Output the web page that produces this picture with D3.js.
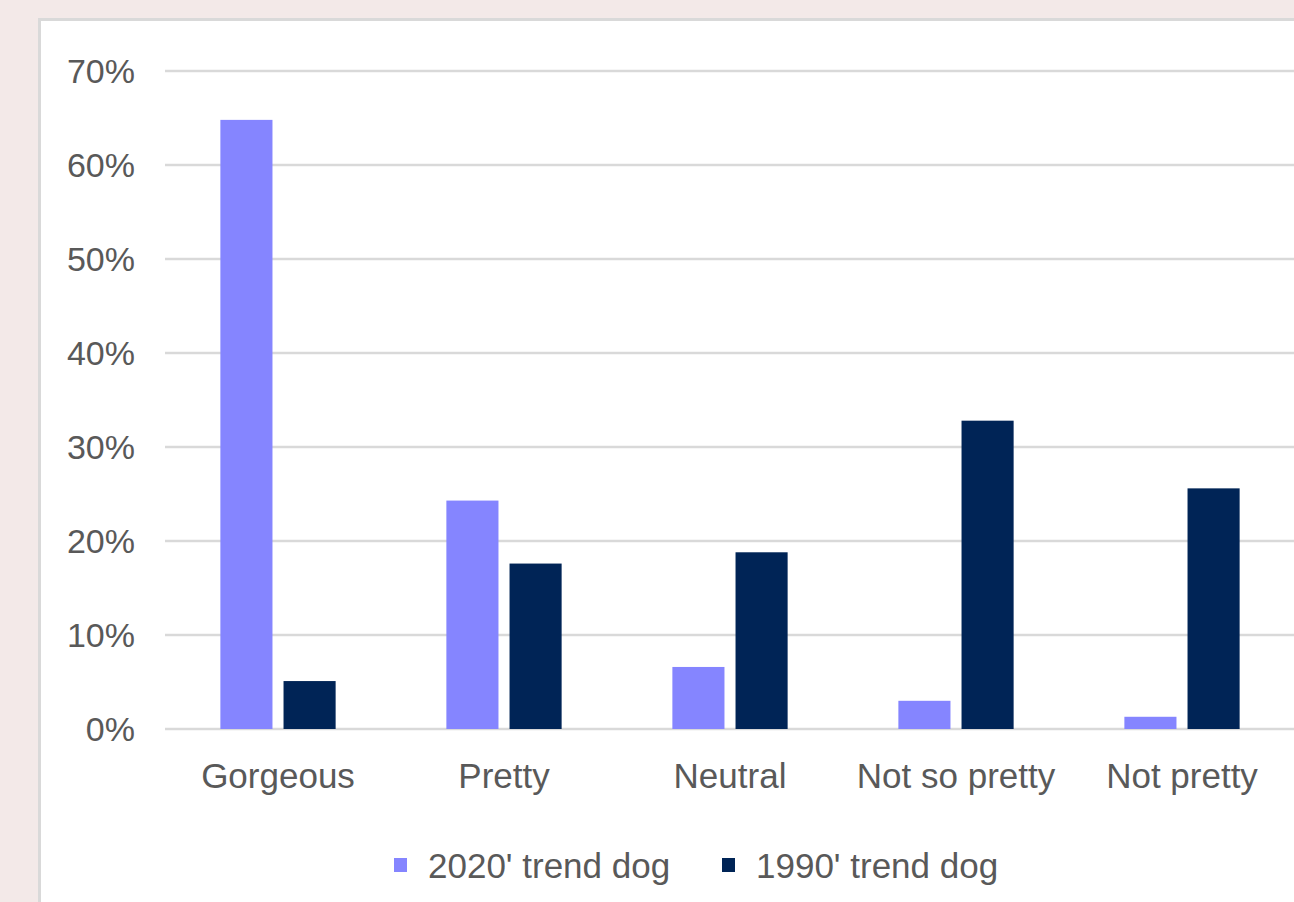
<!doctype html>
<html>
<head>
<script src="https://d3js.org/d3.v7.min.js"></script>
<style>
  body { margin: 0; background: #f3e9e8; }
  text { font-family: "Liberation Sans", Arial, sans-serif; fill: #595959; }
</style>
</head>
<body>
<svg width="1294" height="902"></svg>
<script>
// data
var categories = ["Gorgeous", "Pretty", "Neutral", "Not so pretty", "Not pretty"];
var seriesNames = ["2020' trend dog", "1990' trend dog"];
var trend2020 = [0.648, 0.243, 0.066, 0.030, 0.013];
var trend1990 = [0.051, 0.176, 0.188, 0.328, 0.256];
var yTicks = [0, 0.1, 0.2, 0.3, 0.4, 0.5, 0.6, 0.7];
var colors = ["#8585ff", "#002456"];

var svg = d3.select("svg");

// white panel
svg.append("rect")
  .attr("x", 39.5).attr("y", 19.5)
  .attr("width", 1300).attr("height", 900)
  .style("fill", "#ffffff")
  .style("stroke", "#d9d9d9")
  .style("stroke-width", 3);

var x0 = d3.scaleBand().domain(categories).range([165, 1295])
  .paddingInner(0.49).paddingOuter(0.245);
var x1 = d3.scaleBand().domain([0, 1]).range([0, x0.bandwidth()])
  .paddingInner(0.175);
var y = d3.scaleLinear().domain([0, 0.7]).range([729, 71]);

// gridlines
svg.append("g").selectAll("line")
  .data(yTicks)
  .enter().append("line")
  .attr("x1", 165).attr("x2", 1300)
  .attr("y1", function(d) { return y(d); })
  .attr("y2", function(d) { return y(d); })
  .style("stroke", "#d9d9d9")
  .style("stroke-width", 2.5);

// y labels
var yAxis = svg.append("g")
  .attr("transform", "translate(135,1)")
  .call(d3.axisLeft(y).tickValues(yTicks).tickFormat(d3.format(".0%")).tickSize(0).tickPadding(0));
yAxis.select(".domain").remove();
yAxis.selectAll("text")
  .style("font-size", "34px")
  .style("font-family", "Liberation Sans, Arial, sans-serif")
  .attr("fill", "#595959");

// bars
var rows = categories.map(function(c, i) { return { cat: c, vals: [trend2020[i], trend1990[i]] }; });
var groups = svg.append("g").selectAll("g")
  .data(rows)
  .enter().append("g")
  .attr("transform", function(d) { return "translate(" + x0(d.cat) + ",0)"; });

groups.selectAll("rect")
  .data(function(d) { return d.vals.map(function(v, k) { return { k: k, v: v }; }); })
  .enter().append("rect")
  .attr("x", function(d) { return x1(d.k); })
  .attr("y", function(d) { return y(d.v); })
  .attr("width", x1.bandwidth())
  .attr("height", function(d) { return y(0) - y(d.v); })
  .style("fill", function(d) { return colors[d.k]; });

// x labels
var xAxis = svg.append("g")
  .attr("transform", "translate(0,763)")
  .call(d3.axisBottom(x0).tickSize(0).tickPadding(0));
xAxis.select(".domain").remove();
xAxis.selectAll("text")
  .style("font-size", "35px")
  .style("font-family", "Liberation Sans, Arial, sans-serif")
  .attr("fill", "#595959");

// legend
var legendX = [394, 722];
var legend = svg.append("g").selectAll("g")
  .data(seriesNames)
  .enter().append("g")
  .attr("transform", function(d, i) { return "translate(" + legendX[i] + ",858)"; });
legend.append("rect")
  .attr("width", 13).attr("height", 14)
  .style("fill", function(d, i) { return colors[i]; });
legend.append("text")
  .attr("x", 34).attr("y", 8).attr("dy", "0.35em")
  .style("font-size", "35px")
  .text(function(d) { return d; });
</script>
</body>
</html>
